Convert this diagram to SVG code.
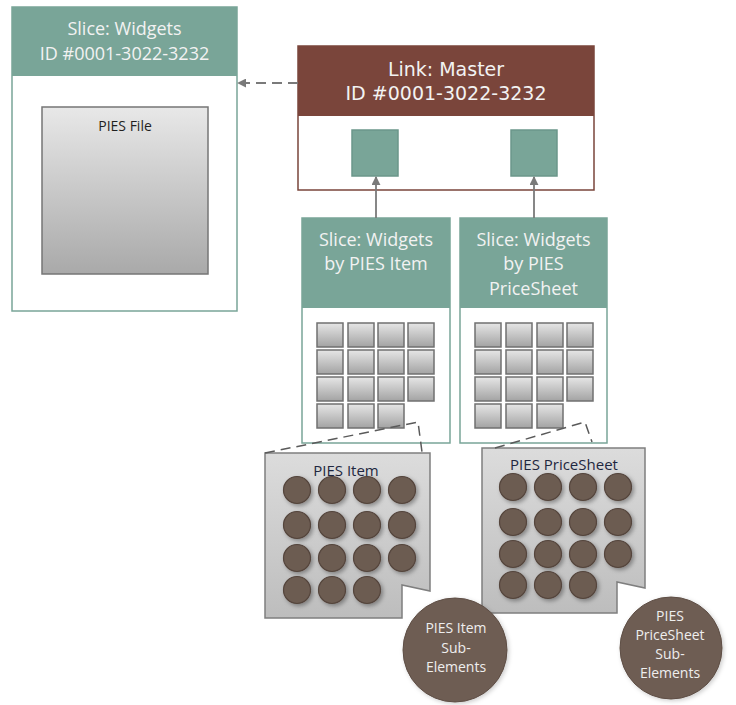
<svg xmlns="http://www.w3.org/2000/svg" width="736" height="705" viewBox="0 0 736 705">
  <defs>
    <linearGradient id="gFile" x1="0" y1="0" x2="0" y2="1">
      <stop offset="0" stop-color="#e8e8e8"/>
      <stop offset="1" stop-color="#a9a9a9"/>
    </linearGradient>
    <linearGradient id="gSlot" x1="0" y1="0" x2="0" y2="1">
      <stop offset="0" stop-color="#e6e6e6"/>
      <stop offset="1" stop-color="#a3a3a3"/>
    </linearGradient>
    <linearGradient id="gPanel" x1="0" y1="0" x2="0" y2="1">
      <stop offset="0" stop-color="#dcdcdc"/>
      <stop offset="1" stop-color="#bdbdbd"/>
    </linearGradient>
    <filter id="shadow" x="-30%" y="-30%" width="170%" height="170%">
      <feDropShadow dx="2" dy="2" stdDeviation="2" flood-color="#000" flood-opacity="0.35"/>
    </filter>
    <filter id="softShadow" x="-20%" y="-20%" width="140%" height="140%">
      <feDropShadow dx="1.5" dy="1.5" stdDeviation="2" flood-color="#000" flood-opacity="0.2"/>
    </filter>
    <marker id="arrow" viewBox="0 0 10 10" refX="9" refY="5" markerWidth="9" markerHeight="9" markerUnits="userSpaceOnUse" orient="auto">
      <path d="M0,0 L10,5 L0,10 Z" fill="#7a7a7a"/>
    </marker>
    <g id="slot"><rect width="26" height="24" fill="url(#gSlot)" stroke="#707070" stroke-width="1.5"/></g>
    <g id="dot"><circle r="13.5" fill="#6c5b51" stroke="#54453c" stroke-width="1.2" filter="url(#shadow)"/></g>
  </defs>
  <style>
    .teal { fill: #79a598; }
    .tealBox { fill: #ffffff; stroke: #79a598; stroke-width: 1.5; }
    .brown { fill: #7a453b; }
    .brownBox { fill: #ffffff; stroke: #7a453b; stroke-width: 1.5; }
    .hdr { font-family: "Open Sans", "Liberation Sans", sans-serif; font-size: 18px; fill: #f2f2f2; text-anchor: middle; }
    .hdr2 { font-family: "DejaVu Sans", "Liberation Sans", sans-serif; font-size: 19px; fill: #f2f2f2; text-anchor: middle; }
    .lbl { font-family: "Open Sans", "Liberation Sans", sans-serif; font-size: 14px; fill: #1f1f1f; text-anchor: middle; }
    .lbl2 { font-family: "Open Sans", "Liberation Sans", sans-serif; font-size: 15px; fill: #1f2740; text-anchor: middle; }
    .ctext { font-family: "Open Sans", "Liberation Sans", sans-serif; font-size: 14px; fill: #eeeeee; text-anchor: middle; }
    .panel { fill: url(#gPanel); stroke: #7f7f7f; stroke-width: 1.5; }
    .conn { fill: none; stroke: #7a7a7a; stroke-width: 1.8; }
    .dash { fill: none; stroke: #5a5a5a; stroke-width: 1.5; stroke-dasharray: 10 6; }
  </style>

  <!-- Slice: Widgets (whole file) -->
  <g id="slice-widgets">
    <rect class="tealBox" x="12" y="7" width="225" height="304"/>
    <rect class="teal" x="12" y="7" width="225" height="69"/>
    <text class="hdr" x="124.5" y="35">Slice: Widgets</text>
    <text class="hdr" x="124.5" y="59.5">ID #0001-3022-3232</text>
    <rect x="42" y="107" width="166" height="167" fill="url(#gFile)" stroke="#767676" stroke-width="1.5"/>
    <text class="lbl" x="125" y="131">PIES File</text>
  </g>

  <!-- Link: Master -->
  <g id="link-master">
    <rect class="brownBox" x="298" y="46" width="296" height="144"/>
    <rect class="brown" x="298" y="46" width="296" height="70"/>
    <text class="hdr2" x="446" y="76">Link: Master</text>
    <text class="hdr2" x="446" y="100">ID #0001-3022-3232</text>
    <rect x="352" y="130" width="46" height="46" fill="#79a598" stroke="#6b978a" stroke-width="1.5"/>
    <rect x="511" y="130" width="46" height="46" fill="#79a598" stroke="#6b978a" stroke-width="1.5"/>
  </g>

  <!-- Slice: Widgets by PIES Item -->
  <g id="slice-item">
    <rect class="tealBox" x="302" y="218" width="148" height="225"/>
    <rect class="teal" x="302" y="218" width="148" height="90"/>
    <text class="hdr" x="376" y="245.5">Slice: Widgets</text>
    <text class="hdr" x="376" y="270">by PIES Item</text>
    <use href="#slot" x="317" y="323"/><use href="#slot" x="348" y="323"/><use href="#slot" x="378" y="323"/><use href="#slot" x="408" y="323"/>
    <use href="#slot" x="317" y="350"/><use href="#slot" x="348" y="350"/><use href="#slot" x="378" y="350"/><use href="#slot" x="408" y="350"/>
    <use href="#slot" x="317" y="377"/><use href="#slot" x="348" y="377"/><use href="#slot" x="378" y="377"/><use href="#slot" x="408" y="377"/>
    <use href="#slot" x="317" y="404"/><use href="#slot" x="348" y="404"/><use href="#slot" x="378" y="404"/>
  </g>

  <!-- Slice: Widgets by PIES PriceSheet -->
  <g id="slice-pricesheet">
    <rect class="tealBox" x="460" y="218" width="147" height="225"/>
    <rect class="teal" x="460" y="218" width="147" height="90"/>
    <text class="hdr" x="533.5" y="245.5">Slice: Widgets</text>
    <text class="hdr" x="533.5" y="270">by PIES</text>
    <text class="hdr" x="533.5" y="294.5">PriceSheet</text>
    <use href="#slot" x="475" y="323"/><use href="#slot" x="506" y="323"/><use href="#slot" x="537" y="323"/><use href="#slot" x="567" y="323"/>
    <use href="#slot" x="475" y="350"/><use href="#slot" x="506" y="350"/><use href="#slot" x="537" y="350"/><use href="#slot" x="567" y="350"/>
    <use href="#slot" x="475" y="377"/><use href="#slot" x="506" y="377"/><use href="#slot" x="537" y="377"/><use href="#slot" x="567" y="377"/>
    <use href="#slot" x="475" y="404"/><use href="#slot" x="506" y="404"/><use href="#slot" x="537" y="404"/>
  </g>

  <!-- PIES Item detail panel -->
  <g id="pies-item">
    <path class="panel" d="M265,453 H430 V591 L402,585 V618 H265 Z"/>
    <text class="lbl2" x="346" y="476">PIES Item</text>
    <use href="#dot" x="297" y="490"/><use href="#dot" x="332" y="490"/><use href="#dot" x="367" y="490"/><use href="#dot" x="402" y="490"/>
    <use href="#dot" x="297" y="525"/><use href="#dot" x="332" y="525"/><use href="#dot" x="367" y="525"/><use href="#dot" x="402" y="525"/>
    <use href="#dot" x="297" y="558"/><use href="#dot" x="332" y="558"/><use href="#dot" x="367" y="558"/><use href="#dot" x="402" y="558"/>
    <use href="#dot" x="297" y="590"/><use href="#dot" x="332" y="590"/><use href="#dot" x="367" y="590"/>
  </g>

  <!-- PIES PriceSheet detail panel -->
  <g id="pies-pricesheet">
    <path class="panel" d="M482,448 H645 V588 L617,582 V613 H482 Z"/>
    <text class="lbl2" x="564" y="470">PIES PriceSheet</text>
    <use href="#dot" x="513" y="487"/><use href="#dot" x="548" y="487"/><use href="#dot" x="583" y="487"/><use href="#dot" x="618" y="487"/>
    <use href="#dot" x="513" y="522"/><use href="#dot" x="548" y="522"/><use href="#dot" x="583" y="522"/><use href="#dot" x="618" y="522"/>
    <use href="#dot" x="513" y="554"/><use href="#dot" x="548" y="554"/><use href="#dot" x="583" y="554"/><use href="#dot" x="618" y="554"/>
    <use href="#dot" x="513" y="585"/><use href="#dot" x="548" y="585"/><use href="#dot" x="583" y="585"/>
  </g>

  <!-- Sub-element bubbles -->
  <g id="item-sub-elements">
    <circle cx="455" cy="650" r="52" fill="#6e5d53" stroke="#5e4e45" stroke-width="1" filter="url(#softShadow)"/>
    <text class="ctext" x="456" y="633">PIES Item</text>
    <text class="ctext" x="456" y="653">Sub-</text>
    <text class="ctext" x="456" y="672">Elements</text>
  </g>
  <g id="pricesheet-sub-elements">
    <circle cx="671" cy="648" r="51" fill="#6e5d53" stroke="#5e4e45" stroke-width="1" filter="url(#softShadow)"/>
    <text class="ctext" x="670" y="621">PIES</text>
    <text class="ctext" x="670" y="640">PriceSheet</text>
    <text class="ctext" x="670" y="659">Sub-</text>
    <text class="ctext" x="670" y="678">Elements</text>
  </g>

  <!-- Connectors -->
  <g id="connectors">
    <line class="conn" x1="298" y1="83" x2="238" y2="83" stroke-dasharray="10 6" marker-end="url(#arrow)"/>
    <line class="conn" x1="376" y1="218" x2="376" y2="177" marker-end="url(#arrow)"/>
    <line class="conn" x1="534" y1="218" x2="534" y2="177" marker-end="url(#arrow)"/>
    <polyline class="dash" points="265,453 418,422 422,452"/>
    <polyline class="dash" points="495,448 585,422 592,442"/>
  </g>
</svg>
